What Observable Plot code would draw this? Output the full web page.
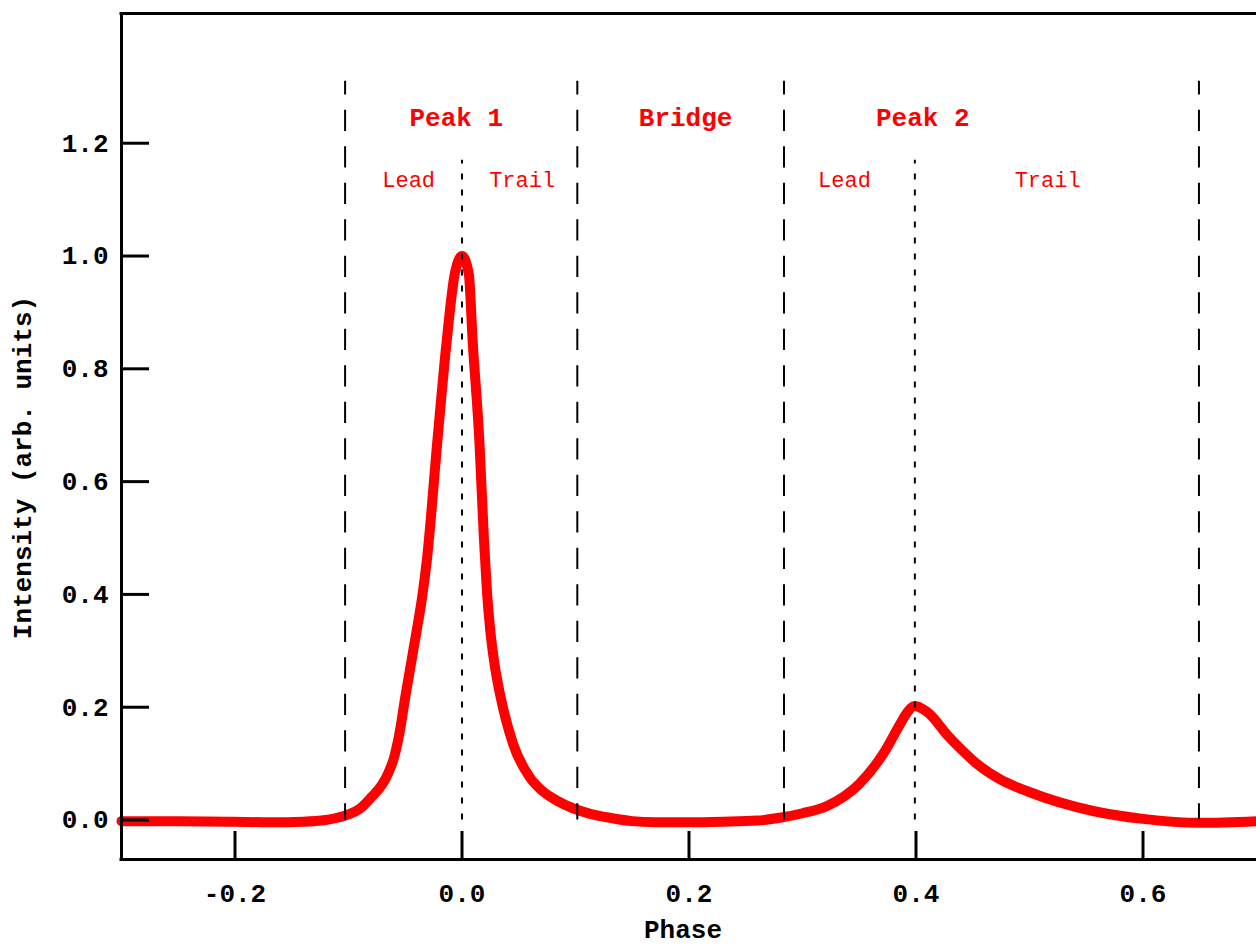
<!DOCTYPE html>
<html>
<head>
<meta charset="utf-8">
<script src="https://cdn.jsdelivr.net/npm/d3@7"></script>
<script src="https://cdn.jsdelivr.net/npm/@observablehq/plot@0.6"></script>
<style>
  html, body { margin: 0; padding: 0; background: #ffffff; }
  #chart svg { display: block; }
</style>
</head>
<body>
<div id="chart"></div>
<script>
// Pulse profile
const phase = [
  -0.30, -0.25, -0.20, -0.17, -0.14, -0.12, -0.11, -0.10, -0.09, -0.08,
  -0.07, -0.065, -0.06, -0.055, -0.05, -0.04, -0.035, -0.031, -0.0217, -0.0135, -0.0064, 0.0,
  0.006, 0.0094, 0.0153, 0.0194, 0.022, 0.0247, 0.029, 0.0335, 0.045, 0.06, 0.07, 0.084, 0.113,
  0.13, 0.15, 0.17, 0.20, 0.23, 0.26, 0.28, 0.30, 0.3216, 0.35, 0.371,
  0.386, 0.392, 0.399, 0.405, 0.412, 0.427, 0.44, 0.454, 0.475, 0.498, 0.556, 0.60,
  0.65, 0.70
];
const intensity = [
  -0.002, -0.002, -0.003, -0.004, -0.003, 0.000, 0.004, 0.010, 0.020, 0.040,
  0.064, 0.083, 0.110, 0.155, 0.218, 0.335, 0.397, 0.460, 0.672, 0.849, 0.968, 1.000,
  0.968, 0.849, 0.672, 0.495, 0.405, 0.340, 0.272, 0.223, 0.135, 0.075, 0.053, 0.034, 0.011,
  0.004, -0.002, -0.004, -0.004, -0.003, -0.001, 0.004, 0.012, 0.025, 0.064, 0.117,
  0.170, 0.190, 0.202, 0.198, 0.188, 0.152, 0.125, 0.099, 0.071, 0.051, 0.016, 0.002,
  -0.005, -0.002
];

// Region boundaries (dashed) and peak centres (dotted)
const boundaries = [-0.103, 0.1016, 0.2837, 0.6493];
const peakCentres = [0.0, 0.399];

// Region labels
const regionNames = ["Peak 1", "Bridge", "Peak 2"];
const regionPhase = [-0.005, 0.197, 0.406];
const subNames = ["Lead", "Trail", "Lead", "Trail"];
const subPhase = [-0.047, 0.053, 0.337, 0.516];

// Axes
const xDomain = [-0.3, 0.7];
const yDomain = [-0.07, 1.43];
const xTicks = [-0.2, 0.0, 0.2, 0.4, 0.6];
const xTickLabels = ["-0.2", "0.0", "0.2", "0.4", "0.6"];
const yTicks = [0.0, 0.2, 0.4, 0.6, 0.8, 1.0, 1.2];
const yTickLabels = ["0.0", "0.2", "0.4", "0.6", "0.8", "1.0", "1.2"];
const xLabel = "Phase";
const yLabel = "Intensity (arb. units)";

const profile = phase.map((p, i) => ({phase: p, intensity: intensity[i]}));
const FONT = "'Courier New', 'Liberation Mono', monospace";
const RED = "#ff0000";

const chart = Plot.plot({
  width: 1256,
  height: 945,
  marginLeft: 121,
  marginRight: 0,
  marginTop: 13,
  marginBottom: 86,
  x: {domain: xDomain, axis: null, label: null},
  y: {domain: yDomain, axis: null, label: null},
  style: {background: "#ffffff", fontFamily: FONT},
  marks: [
    Plot.line(profile, {x: "phase", y: "intensity", stroke: RED, strokeWidth: 10, curve: "monotone-x"}),
    Plot.ruleX(boundaries, {x: d => d, y1: 0, y2: 1.31, stroke: "#000", strokeWidth: 2,
      strokeDasharray: "21.3,15.2", strokeDashoffset: 5}),
    Plot.ruleX(peakCentres, {x: d => d, y1: 0, y2: 1.17, stroke: "#000", strokeWidth: 2,
      strokeDasharray: "6,10"}),
    // frame: left, top, bottom
    Plot.ruleX([xDomain[0]], {x: d => d, stroke: "#000", strokeWidth: 3}),
    Plot.ruleY([yDomain[0], yDomain[1]], {y: d => d, stroke: "#000", strokeWidth: 3, strokeLinecap: "square"}),
    // inward ticks
    Plot.axisX(xTicks, {anchor: "bottom", tickSize: -28, strokeWidth: 3, tickFormat: () => "", label: null}),
    Plot.axisY(yTicks, {anchor: "left", tickSize: -28, strokeWidth: 3, tickFormat: () => "", label: null}),
    // tick labels
    Plot.text(xTicks, {x: d => d, text: (d, i) => xTickLabels[i], frameAnchor: "bottom", dy: 34,
      lineAnchor: "middle", fontSize: 26, fontWeight: "bold", fontFamily: FONT, fill: "#000"}),
    Plot.text(yTicks, {y: d => d, text: (d, i) => yTickLabels[i], frameAnchor: "left", dx: -13,
      textAnchor: "end", lineAnchor: "middle", fontSize: 26, fontWeight: "bold", fontFamily: FONT, fill: "#000"}),
    // axis titles
    Plot.text([xLabel], {text: d => d, frameAnchor: "bottom", dx: -6, dy: 70, lineAnchor: "middle",
      fontSize: 26, fontWeight: "bold", fontFamily: FONT, fill: "#000"}),
    Plot.text([yLabel], {text: d => d, frameAnchor: "left", dx: -99, dy: 31, rotate: -90,
      lineAnchor: "middle", textAnchor: "middle", fontSize: 26, fontWeight: "bold", fontFamily: FONT, fill: "#000"}),
    // region labels
    Plot.text(regionNames, {x: (d, i) => regionPhase[i], y: () => 1.245, text: d => d,
      lineAnchor: "middle", fontSize: 26, fontWeight: "bold", fontFamily: FONT, fill: RED}),
    Plot.text(subNames, {x: (d, i) => subPhase[i], y: () => 1.135, text: d => d,
      lineAnchor: "middle", fontSize: 22, fontWeight: "normal", fontFamily: FONT, fill: RED})
  ]
});

document.getElementById("chart").appendChild(chart);
</script>
</body>
</html>
